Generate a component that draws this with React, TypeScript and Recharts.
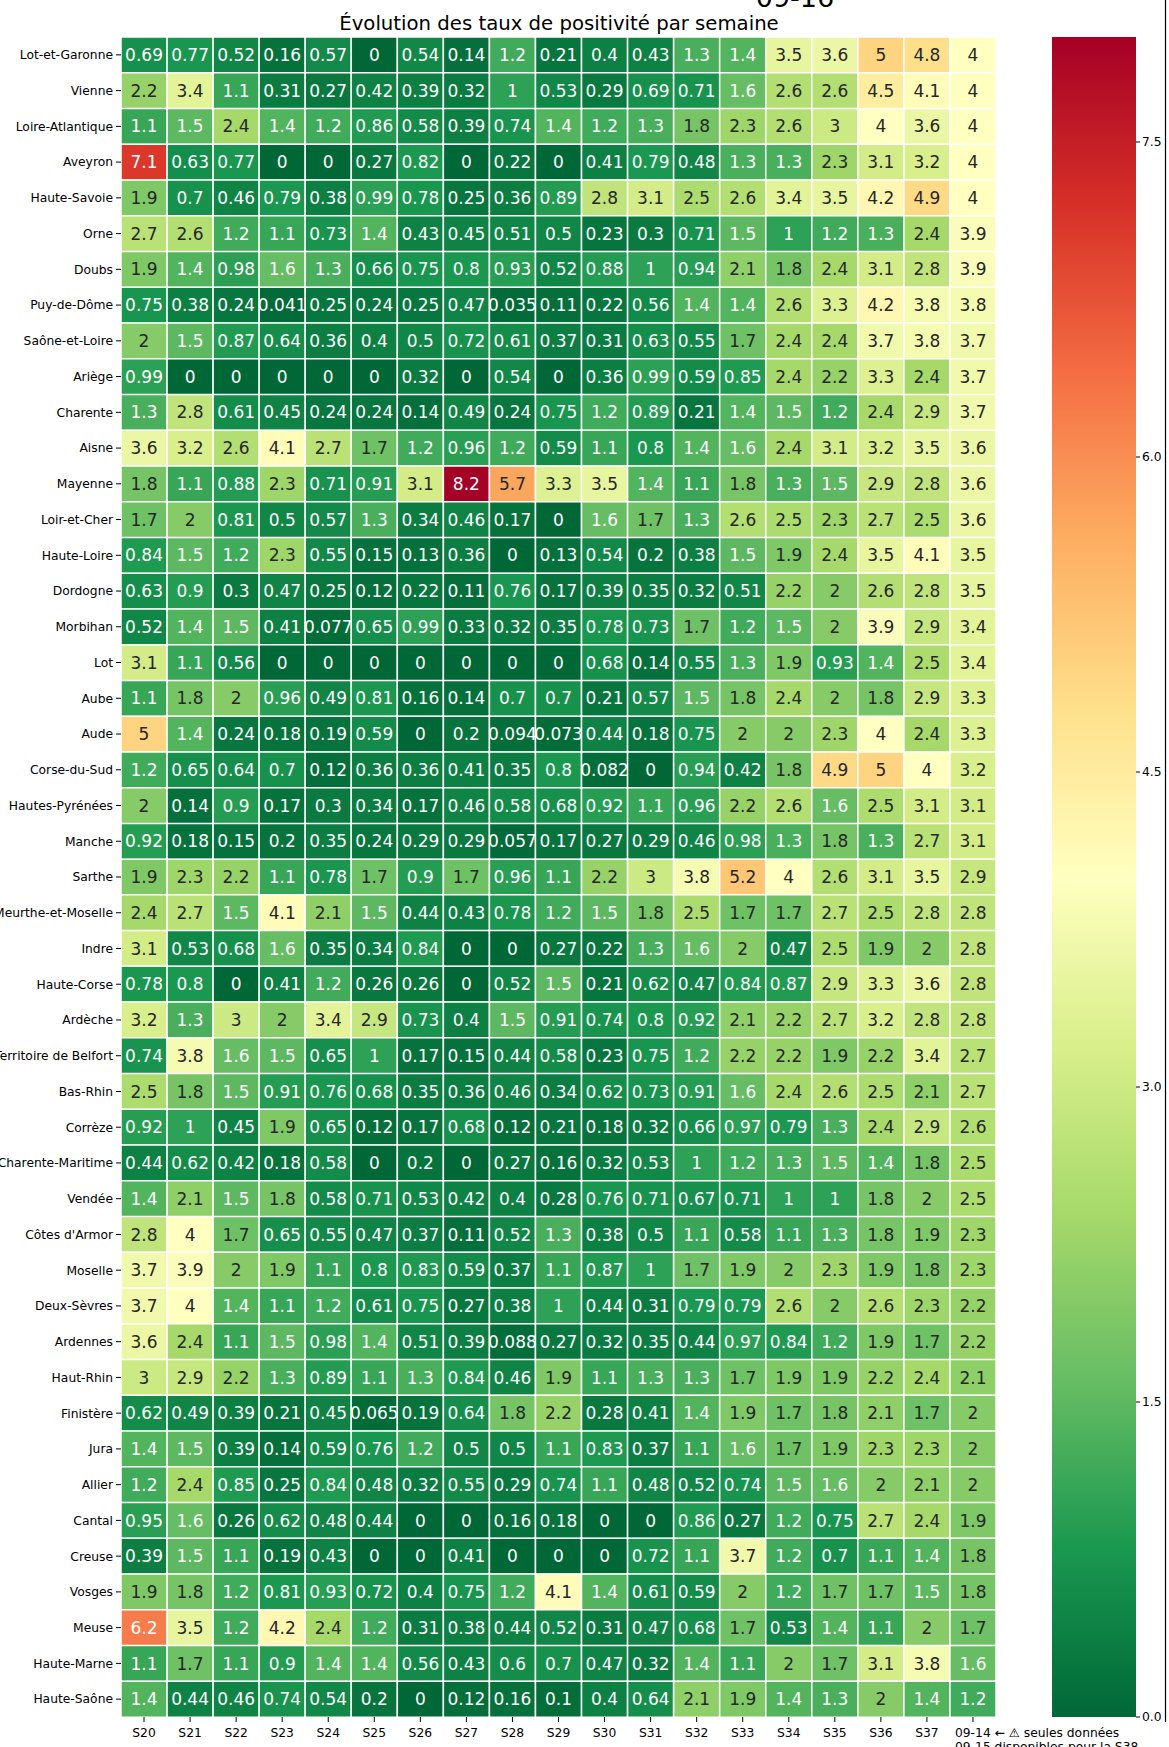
import React from 'react';
import { BarChart, Bar, Cell, LabelList, XAxis, YAxis } from 'recharts';

// weeks shown on the x axis (last column = partial week S38)
const WEEKS = ['S20', 'S21', 'S22', 'S23', 'S24', 'S25', 'S26', 'S27', 'S28', 'S29', 'S30', 'S31', 'S32', 'S33', 'S34', 'S35', 'S36', 'S37', '09-14'];

const DEPARTEMENTS = [
  'Lot-et-Garonne', 'Vienne', 'Loire-Atlantique', 'Aveyron', 'Haute-Savoie', 'Orne', 'Doubs', 'Puy-de-Dôme',
  'Saône-et-Loire', 'Ariège', 'Charente', 'Aisne', 'Mayenne', 'Loir-et-Cher', 'Haute-Loire', 'Dordogne',
  'Morbihan', 'Lot', 'Aube', 'Aude', 'Corse-du-Sud', 'Hautes-Pyrénées', 'Manche', 'Sarthe',
  'Meurthe-et-Moselle', 'Indre', 'Haute-Corse', 'Ardèche', 'Territoire de Belfort', 'Bas-Rhin', 'Corrèze',
  'Charente-Maritime', 'Vendée', "Côtes d'Armor", 'Moselle', 'Deux-Sèvres', 'Ardennes', 'Haut-Rhin',
  'Finistère', 'Jura', 'Allier', 'Cantal', 'Creuse', 'Vosges', 'Meuse', 'Haute-Marne', 'Haute-Saône',
];

// taux de positivité, one line per département, one value per week
const TAUX: number[][] = [
  [0.69, 0.77, 0.52, 0.16, 0.57, 0, 0.54, 0.14, 1.2, 0.21, 0.4, 0.43, 1.3, 1.4, 3.5, 3.6, 5, 4.8, 4],
  [2.2, 3.4, 1.1, 0.31, 0.27, 0.42, 0.39, 0.32, 1, 0.53, 0.29, 0.69, 0.71, 1.6, 2.6, 2.6, 4.5, 4.1, 4],
  [1.1, 1.5, 2.4, 1.4, 1.2, 0.86, 0.58, 0.39, 0.74, 1.4, 1.2, 1.3, 1.8, 2.3, 2.6, 3, 4, 3.6, 4],
  [7.1, 0.63, 0.77, 0, 0, 0.27, 0.82, 0, 0.22, 0, 0.41, 0.79, 0.48, 1.3, 1.3, 2.3, 3.1, 3.2, 4],
  [1.9, 0.7, 0.46, 0.79, 0.38, 0.99, 0.78, 0.25, 0.36, 0.89, 2.8, 3.1, 2.5, 2.6, 3.4, 3.5, 4.2, 4.9, 4],
  [2.7, 2.6, 1.2, 1.1, 0.73, 1.4, 0.43, 0.45, 0.51, 0.5, 0.23, 0.3, 0.71, 1.5, 1, 1.2, 1.3, 2.4, 3.9],
  [1.9, 1.4, 0.98, 1.6, 1.3, 0.66, 0.75, 0.8, 0.93, 0.52, 0.88, 1, 0.94, 2.1, 1.8, 2.4, 3.1, 2.8, 3.9],
  [0.75, 0.38, 0.24, 0.041, 0.25, 0.24, 0.25, 0.47, 0.035, 0.11, 0.22, 0.56, 1.4, 1.4, 2.6, 3.3, 4.2, 3.8, 3.8],
  [2, 1.5, 0.87, 0.64, 0.36, 0.4, 0.5, 0.72, 0.61, 0.37, 0.31, 0.63, 0.55, 1.7, 2.4, 2.4, 3.7, 3.8, 3.7],
  [0.99, 0, 0, 0, 0, 0, 0.32, 0, 0.54, 0, 0.36, 0.99, 0.59, 0.85, 2.4, 2.2, 3.3, 2.4, 3.7],
  [1.3, 2.8, 0.61, 0.45, 0.24, 0.24, 0.14, 0.49, 0.24, 0.75, 1.2, 0.89, 0.21, 1.4, 1.5, 1.2, 2.4, 2.9, 3.7],
  [3.6, 3.2, 2.6, 4.1, 2.7, 1.7, 1.2, 0.96, 1.2, 0.59, 1.1, 0.8, 1.4, 1.6, 2.4, 3.1, 3.2, 3.5, 3.6],
  [1.8, 1.1, 0.88, 2.3, 0.71, 0.91, 3.1, 8.2, 5.7, 3.3, 3.5, 1.4, 1.1, 1.8, 1.3, 1.5, 2.9, 2.8, 3.6],
  [1.7, 2, 0.81, 0.5, 0.57, 1.3, 0.34, 0.46, 0.17, 0, 1.6, 1.7, 1.3, 2.6, 2.5, 2.3, 2.7, 2.5, 3.6],
  [0.84, 1.5, 1.2, 2.3, 0.55, 0.15, 0.13, 0.36, 0, 0.13, 0.54, 0.2, 0.38, 1.5, 1.9, 2.4, 3.5, 4.1, 3.5],
  [0.63, 0.9, 0.3, 0.47, 0.25, 0.12, 0.22, 0.11, 0.76, 0.17, 0.39, 0.35, 0.32, 0.51, 2.2, 2, 2.6, 2.8, 3.5],
  [0.52, 1.4, 1.5, 0.41, 0.077, 0.65, 0.99, 0.33, 0.32, 0.35, 0.78, 0.73, 1.7, 1.2, 1.5, 2, 3.9, 2.9, 3.4],
  [3.1, 1.1, 0.56, 0, 0, 0, 0, 0, 0, 0, 0.68, 0.14, 0.55, 1.3, 1.9, 0.93, 1.4, 2.5, 3.4],
  [1.1, 1.8, 2, 0.96, 0.49, 0.81, 0.16, 0.14, 0.7, 0.7, 0.21, 0.57, 1.5, 1.8, 2.4, 2, 1.8, 2.9, 3.3],
  [5, 1.4, 0.24, 0.18, 0.19, 0.59, 0, 0.2, 0.094, 0.073, 0.44, 0.18, 0.75, 2, 2, 2.3, 4, 2.4, 3.3],
  [1.2, 0.65, 0.64, 0.7, 0.12, 0.36, 0.36, 0.41, 0.35, 0.8, 0.082, 0, 0.94, 0.42, 1.8, 4.9, 5, 4, 3.2],
  [2, 0.14, 0.9, 0.17, 0.3, 0.34, 0.17, 0.46, 0.58, 0.68, 0.92, 1.1, 0.96, 2.2, 2.6, 1.6, 2.5, 3.1, 3.1],
  [0.92, 0.18, 0.15, 0.2, 0.35, 0.24, 0.29, 0.29, 0.057, 0.17, 0.27, 0.29, 0.46, 0.98, 1.3, 1.8, 1.3, 2.7, 3.1],
  [1.9, 2.3, 2.2, 1.1, 0.78, 1.7, 0.9, 1.7, 0.96, 1.1, 2.2, 3, 3.8, 5.2, 4, 2.6, 3.1, 3.5, 2.9],
  [2.4, 2.7, 1.5, 4.1, 2.1, 1.5, 0.44, 0.43, 0.78, 1.2, 1.5, 1.8, 2.5, 1.7, 1.7, 2.7, 2.5, 2.8, 2.8],
  [3.1, 0.53, 0.68, 1.6, 0.35, 0.34, 0.84, 0, 0, 0.27, 0.22, 1.3, 1.6, 2, 0.47, 2.5, 1.9, 2, 2.8],
  [0.78, 0.8, 0, 0.41, 1.2, 0.26, 0.26, 0, 0.52, 1.5, 0.21, 0.62, 0.47, 0.84, 0.87, 2.9, 3.3, 3.6, 2.8],
  [3.2, 1.3, 3, 2, 3.4, 2.9, 0.73, 0.4, 1.5, 0.91, 0.74, 0.8, 0.92, 2.1, 2.2, 2.7, 3.2, 2.8, 2.8],
  [0.74, 3.8, 1.6, 1.5, 0.65, 1, 0.17, 0.15, 0.44, 0.58, 0.23, 0.75, 1.2, 2.2, 2.2, 1.9, 2.2, 3.4, 2.7],
  [2.5, 1.8, 1.5, 0.91, 0.76, 0.68, 0.35, 0.36, 0.46, 0.34, 0.62, 0.73, 0.91, 1.6, 2.4, 2.6, 2.5, 2.1, 2.7],
  [0.92, 1, 0.45, 1.9, 0.65, 0.12, 0.17, 0.68, 0.12, 0.21, 0.18, 0.32, 0.66, 0.97, 0.79, 1.3, 2.4, 2.9, 2.6],
  [0.44, 0.62, 0.42, 0.18, 0.58, 0, 0.2, 0, 0.27, 0.16, 0.32, 0.53, 1, 1.2, 1.3, 1.5, 1.4, 1.8, 2.5],
  [1.4, 2.1, 1.5, 1.8, 0.58, 0.71, 0.53, 0.42, 0.4, 0.28, 0.76, 0.71, 0.67, 0.71, 1, 1, 1.8, 2, 2.5],
  [2.8, 4, 1.7, 0.65, 0.55, 0.47, 0.37, 0.11, 0.52, 1.3, 0.38, 0.5, 1.1, 0.58, 1.1, 1.3, 1.8, 1.9, 2.3],
  [3.7, 3.9, 2, 1.9, 1.1, 0.8, 0.83, 0.59, 0.37, 1.1, 0.87, 1, 1.7, 1.9, 2, 2.3, 1.9, 1.8, 2.3],
  [3.7, 4, 1.4, 1.1, 1.2, 0.61, 0.75, 0.27, 0.38, 1, 0.44, 0.31, 0.79, 0.79, 2.6, 2, 2.6, 2.3, 2.2],
  [3.6, 2.4, 1.1, 1.5, 0.98, 1.4, 0.51, 0.39, 0.088, 0.27, 0.32, 0.35, 0.44, 0.97, 0.84, 1.2, 1.9, 1.7, 2.2],
  [3, 2.9, 2.2, 1.3, 0.89, 1.1, 1.3, 0.84, 0.46, 1.9, 1.1, 1.3, 1.3, 1.7, 1.9, 1.9, 2.2, 2.4, 2.1],
  [0.62, 0.49, 0.39, 0.21, 0.45, 0.065, 0.19, 0.64, 1.8, 2.2, 0.28, 0.41, 1.4, 1.9, 1.7, 1.8, 2.1, 1.7, 2],
  [1.4, 1.5, 0.39, 0.14, 0.59, 0.76, 1.2, 0.5, 0.5, 1.1, 0.83, 0.37, 1.1, 1.6, 1.7, 1.9, 2.3, 2.3, 2],
  [1.2, 2.4, 0.85, 0.25, 0.84, 0.48, 0.32, 0.55, 0.29, 0.74, 1.1, 0.48, 0.52, 0.74, 1.5, 1.6, 2, 2.1, 2],
  [0.95, 1.6, 0.26, 0.62, 0.48, 0.44, 0, 0, 0.16, 0.18, 0, 0, 0.86, 0.27, 1.2, 0.75, 2.7, 2.4, 1.9],
  [0.39, 1.5, 1.1, 0.19, 0.43, 0, 0, 0.41, 0, 0, 0, 0.72, 1.1, 3.7, 1.2, 0.7, 1.1, 1.4, 1.8],
  [1.9, 1.8, 1.2, 0.81, 0.93, 0.72, 0.4, 0.75, 1.2, 4.1, 1.4, 0.61, 0.59, 2, 1.2, 1.7, 1.7, 1.5, 1.8],
  [6.2, 3.5, 1.2, 4.2, 2.4, 1.2, 0.31, 0.38, 0.44, 0.52, 0.31, 0.47, 0.68, 1.7, 0.53, 1.4, 1.1, 2, 1.7],
  [1.1, 1.7, 1.1, 0.9, 1.4, 1.4, 0.56, 0.43, 0.6, 0.7, 0.47, 0.32, 1.4, 1.1, 2, 1.7, 3.1, 3.8, 1.6],
  [1.4, 0.44, 0.46, 0.74, 0.54, 0.2, 0, 0.12, 0.16, 0.1, 0.4, 0.64, 2.1, 1.9, 1.4, 1.3, 2, 1.4, 1.2],
];

const CBAR_MAX = 8;
const CBAR_TICKS = [0, 1.5, 3, 4.5, 6, 7.5];

// RdYlGn reversed
const PALETTE = ['#006837', '#1a9850', '#66bd63', '#a6d96a', '#d9ef8b', '#ffffbf', '#fee08b', '#fdae61', '#f46d43', '#d73027', '#a50026'];

const FONT = '"DejaVu Sans", sans-serif';

const hexToRgb = (h: string) => [1, 3, 5].map(i => parseInt(h.slice(i, i + 2), 16));

const rgbAt = (v: number) => {
  const t = Math.max(0, Math.min(1, v / CBAR_MAX)) * (PALETTE.length - 1);
  const i = Math.min(Math.floor(t), PALETTE.length - 2);
  const f = t - i;
  const a = hexToRgb(PALETTE[i]);
  const b = hexToRgb(PALETTE[i + 1]);
  return a.map((c, k) => Math.round(c + (b[k] - c) * f));
};

const colorFor = (v: number) => {
  const [r, g, b] = rgbAt(v);
  return `rgb(${r},${g},${b})`;
};

// same rule as seaborn: dark text on light cells
const textColorFor = (v: number) => {
  const lin = rgbAt(v).map(c => {
    const s = c / 255;
    return s <= 0.03928 ? s / 12.92 : Math.pow((s + 0.055) / 1.055, 2.4);
  });
  const lum = 0.2126 * lin[0] + 0.7152 * lin[1] + 0.0722 * lin[2];
  return lum > 0.408 ? '#262626' : '#ffffff';
};

const rows = DEPARTEMENTS.map((name, i) => {
  const row: any = { name };
  WEEKS.forEach((_, j) => {
    row[`c${j}`] = 1;
    row[`v${j}`] = TAUX[i][j];
  });
  return row;
});

const weekTicks = WEEKS.map((_, j) => j + 0.5);

const renderCellLabel = (props: any) => {
  const vb = props.viewBox || props;
  const x = vb.x ?? props.x;
  const y = vb.y ?? props.y;
  const w = vb.width ?? props.width;
  const h = vb.height ?? props.height;
  const v = Number(props.value);
  return (
    <text x={x + w / 2} y={y + h / 2} textAnchor="middle" dominantBaseline="central"
      fontFamily={FONT} fontSize={17} fill={textColorFor(v)}>
      {String(v)}
    </text>
  );
};

// single-line label, overflow is clipped at the page edge like the original
const DeptTick = (props: any) => {
  const { x, y, payload } = props;
  return (
    <text x={x} y={y} dy="0.355em" textAnchor="end" fontFamily={FONT} fontSize={12.3} fill="#000">
      {payload.value}
    </text>
  );
};

const WeekTick = (props: any) => {
  const { x, y, payload } = props;
  const idx = Math.round(payload.value - 0.5);
  if (idx === WEEKS.length - 1) {
    return (
      <text x={x - 18} y={y} dy="0.71em" fontFamily={FONT} fontSize={12.3} fill="#000">
        <tspan x={x - 18}>09-14 ← ⚠ seules données</tspan>
        <tspan x={x - 18} dy="1.15em">09-15  disponibles pour la S38</tspan>
      </text>
    );
  }
  return (
    <text x={x} y={y} dy="0.71em" textAnchor="middle" fontFamily={FONT} fontSize={12.3} fill="#000">
      {WEEKS[idx]}
    </text>
  );
};

export default function App() {
  return (
    <div style={{ position: 'absolute', left: 0, top: 0, width: 1169, height: 1747, background: '#fff', overflow: 'hidden' }}>
      <svg width={1169} height={1747} style={{ position: 'absolute', left: 0, top: 0 }}>
        <text x={795} y={7} textAnchor="middle" fontFamily={FONT} fontSize={27} fill="#000">09-16</text>
        <text x={559} y={30} textAnchor="middle" fontFamily={FONT} fontSize={19.7} fill="#000">
          Évolution des taux de positivité par semaine
        </text>
        <line x1={1165.5} y1={0} x2={1165.5} y2={1722} stroke="#000" strokeWidth={1.2} />
      </svg>

      <div style={{ position: 'absolute', left: 0, top: 0 }}>
        <BarChart width={996 + 173} height={1747} data={rows} layout="vertical"
          margin={{ top: 37, right: 173, left: 0, bottom: 0 }} barCategoryGap={0} barGap={0}>
          <XAxis type="number" domain={[0, WEEKS.length]} ticks={weekTicks} interval={0}
            axisLine={false} tickLine={{ stroke: '#000' }} tickSize={5} tickMargin={6} height={30}
            tick={<WeekTick />} allowDecimals />
          <YAxis type="category" dataKey="name" width={121} interval={0} axisLine={false}
            tickLine={{ stroke: '#000' }} tickSize={5} tickMargin={3}
            tick={<DeptTick />} />
          {WEEKS.map((w, j) => (
            <Bar key={w} dataKey={`c${j}`} stackId="s" isAnimationActive={false}
              stroke="#ffffff" strokeWidth={1.5}>
              {rows.map((r, i) => (
                <Cell key={r.name} fill={colorFor(TAUX[i][j])} />
              ))}
              <LabelList dataKey={`v${j}`} content={renderCellLabel} />
            </Bar>
          ))}
        </BarChart>
      </div>

      <div style={{ position: 'absolute', left: 1052, top: 0 }}>
        <BarChart width={117} height={1747} data={[{ name: 'cbar', v: CBAR_MAX }]}
          margin={{ top: 37, right: 0, left: 0, bottom: 30 }} barCategoryGap={0}>
          <defs>
            <linearGradient id="cbarGrad" x1="0" y1="1" x2="0" y2="0">
              {PALETTE.map((c, i) => (
                <stop key={c} offset={`${(i / (PALETTE.length - 1)) * 100}%`} stopColor={c} />
              ))}
            </linearGradient>
          </defs>
          <XAxis dataKey="name" hide />
          <YAxis orientation="right" type="number" domain={[0, CBAR_MAX]} ticks={CBAR_TICKS}
            interval={0} width={33} axisLine={false} tickLine={{ stroke: '#000' }} tickSize={4} tickMargin={2}
            tickFormatter={(v: number) => v.toFixed(1)}
            tick={{ fontFamily: FONT, fontSize: 12.3, fill: '#000' }} />
          <Bar dataKey="v" fill="url(#cbarGrad)" isAnimationActive={false} />
        </BarChart>
      </div>
    </div>
  );
}
